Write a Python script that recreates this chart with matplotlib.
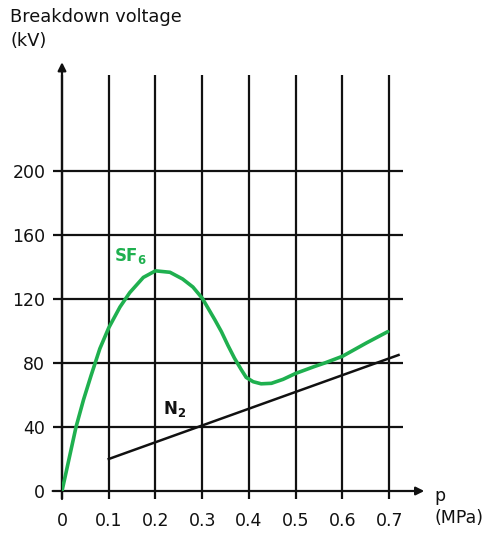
import matplotlib

matplotlib.use("Agg")
import matplotlib.pyplot as plt

# data
p_ticks = [0, 0.1, 0.2, 0.3, 0.4, 0.5, 0.6, 0.7]
p_tick_labels = ["0", "0.1", "0.2", "0.3", "0.4", "0.5", "0.6", "0.7"]
v_ticks = [0, 40, 80, 120, 160, 200]
v_tick_labels = ["0", "40", "80", "120", "160", "200"]

sf6_p = [0.000, 0.015, 0.030, 0.046, 0.062, 0.081, 0.100, 0.124, 0.145,
         0.174, 0.200, 0.231, 0.258, 0.280, 0.300, 0.315, 0.327, 0.341,
         0.355, 0.369, 0.384, 0.394, 0.409, 0.426, 0.448, 0.473, 0.500,
         0.540, 0.562, 0.600, 0.651, 0.697]
sf6_v = [0, 20, 40, 57, 72, 89, 102, 115, 124,
         133.5, 137.6, 136.7, 132.5, 127.5, 120.5, 113, 107, 99.6,
         91, 83, 75.6, 71, 68.3, 67, 67.3, 69.8, 73.5,
         77.8, 80, 84.2, 92.5, 99.6]

n2_p = [0.1, 0.72]
n2_v = [20, 85]

GREEN = "#1fb04f"
INK = "#111111"

plt.rcParams.update({
    "font.family": ["DejaVu Sans"],
    "mathtext.fontset": "dejavusans",
})

fig = plt.figure(figsize=(4.95, 5.33), dpi=100)
ax = fig.add_axes([62 / 495, 42 / 533, 364.6 / 495, 424 / 533])
ax.set_xlim(0, 0.78)
ax.set_ylim(0, 265)
for s in ax.spines.values():
    s.set_visible(False)

# grid drawn by hand so it stops short of the axes box like the original
ax.vlines(p_ticks, -5, 260, color=INK, lw=1.6, clip_on=False, zorder=1)
ax.hlines(v_ticks[1:], -0.02, 0.73, color=INK, lw=1.6, clip_on=False, zorder=1)

# axes with arrows
ax.annotate("", xy=(0.775, 0), xytext=(-0.02, 0),
            arrowprops=dict(arrowstyle="-|>", color=INK, lw=1.6,
                            mutation_scale=12, shrinkA=0, shrinkB=0),
            annotation_clip=False)
ax.annotate("", xy=(0, 268), xytext=(0, -5),
            arrowprops=dict(arrowstyle="-|>", color=INK, lw=1.6,
                            mutation_scale=12, shrinkA=0, shrinkB=0),
            annotation_clip=False)

ax.plot(sf6_p, sf6_v, color=GREEN, lw=2.6, zorder=3,
        solid_capstyle="round", solid_joinstyle="round")
ax.plot(n2_p, n2_v, color=INK, lw=1.8, zorder=3)

ax.set_xticks(p_ticks, p_tick_labels)
ax.set_yticks(v_ticks, v_tick_labels)
ax.tick_params(axis="x", length=0, pad=15, labelsize=12.5, colors=INK)
ax.tick_params(axis="y", length=0, pad=12, labelsize=12.5, colors=INK)

ax.text(0.146, 147, r"$\mathbf{SF_6}$", color=GREEN, fontsize=12,
        ha="center", va="center")
ax.text(0.24, 51, r"$\mathbf{N_2}$", color=INK, fontsize=12,
        ha="center", va="center")

ax.text(0.797, -3, "p", fontsize=12.5, color=INK, ha="left", va="center")
ax.text(0.797, -17, "(MPa)", fontsize=12.5, color=INK, ha="left",
        va="center")

fig.text(10 / 495, 1 - 8 / 533, "Breakdown voltage\n(kV)", fontsize=12.8,
         color=INK, ha="left", va="top", linespacing=1.4)

fig.savefig("out.png", dpi=100)
